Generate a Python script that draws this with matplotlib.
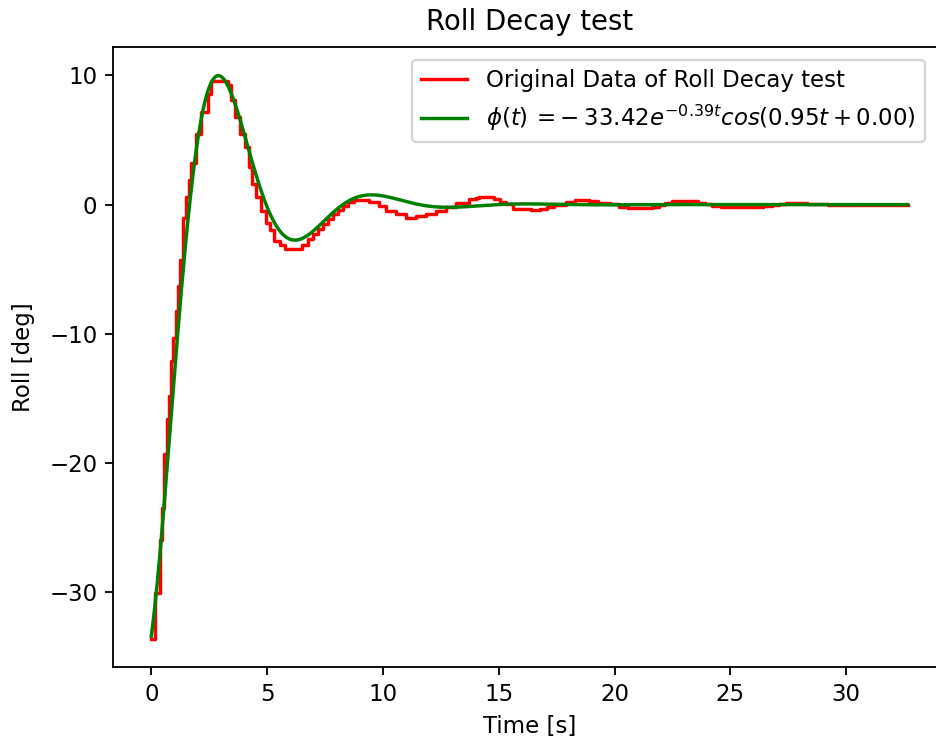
import numpy as np
import matplotlib.pyplot as plt

# measured roll record (sample-and-hold, breakpoints in seconds)
roll_time = [0.00, 0.17, 0.36, 0.46, 0.53, 0.57, 0.67, 0.76, 0.85, 0.93,
             1.05, 1.15, 1.25, 1.38, 1.48, 1.62, 1.72, 1.94, 2.15, 2.44,
             2.59, 3.31, 3.45, 3.60, 3.81, 4.03, 4.24, 4.36, 4.53, 4.75,
             4.96, 5.11, 5.32, 5.54, 5.76, 6.50, 6.75, 6.98, 7.20, 7.41,
             7.62, 7.84, 8.05, 8.27, 8.50, 8.75, 9.40, 9.84, 10.13, 10.56,
             10.99, 11.42, 11.85, 12.28, 12.71, 13.14, 13.72, 14.00, 14.15, 14.80,
             15.05, 15.30, 15.60, 16.40, 16.80, 17.10, 17.40, 17.90, 18.30, 18.90,
             19.30, 19.80, 20.20, 20.60, 21.60, 21.90, 22.20, 22.50, 23.60, 23.90,
             24.20, 24.60, 26.40, 26.80, 27.10, 27.40, 28.30, 28.60, 29.20, 32.65]
roll_deg = [-33.6, -30.1, -26.0, -23.5, -21.6, -19.3, -16.6, -14.8, -12.1, -10.3,
            -8.2, -6.3, -4.3, -1.0, 0.6, 1.9, 3.2, 5.5, 7.2, 8.6,
            9.6, 9.3, 8.1, 6.8, 5.5, 4.5, 2.9, 1.6, 0.6, -0.5,
            -1.4, -2.0, -2.8, -3.1, -3.45, -3.1, -2.7, -2.3, -1.9, -1.5,
            -1.1, -0.7, -0.4, -0.1, 0.2, 0.35, 0.2, -0.1, -0.5, -0.7,
            -1.0, -0.9, -0.7, -0.5, -0.2, 0.1, 0.4, 0.55, 0.6, 0.45,
            0.2, 0.05, -0.3, -0.45, -0.35, -0.15, 0.0, 0.2, 0.38, 0.3,
            0.15, 0.03, -0.15, -0.28, -0.2, -0.05, 0.1, 0.25, 0.12, 0.02,
            -0.08, -0.17, -0.08, 0.0, 0.08, 0.15, 0.08, 0.03, 0.0, 0.0]

# fitted decay model parameters
amp = -33.42
decay = 0.39
omega = 0.95
phase = 0.00

t_fit = np.linspace(roll_time[0], roll_time[-1], 600)
roll_fit = amp * np.exp(-decay * t_fit) * np.cos(omega * t_fit + phase)
sign = '-' if amp < 0 else '+'
fit_label = (r'$\phi(t)\,= %s\: %.2fe^{-%.2ft}cos(%.2ft + %.2f)$'
             % (sign, abs(amp), decay, omega, phase))

dpi = 165
fig = plt.figure(figsize=(936 / dpi, 742 / dpi), dpi=dpi)
ax = fig.add_axes([0.1212, 0.1015, 0.8888, 0.8345])

ax.plot(roll_time, roll_deg, color='red', drawstyle='steps-post',
        label='Original Data of Roll Decay test')
ax.plot(t_fit, roll_fit, color='green', label=fit_label)

ax.set_title('Roll Decay test', pad=7.5)
ax.set_xlabel('Time [s]')
ax.set_ylabel('Roll [deg]', labelpad=6)
ax.legend(loc='upper right', bbox_to_anchor=(924.5 / 936, 1 - 59.5 / 742),
          bbox_transform=fig.transFigure, borderaxespad=0)

fig.savefig('out.png', dpi=dpi)
